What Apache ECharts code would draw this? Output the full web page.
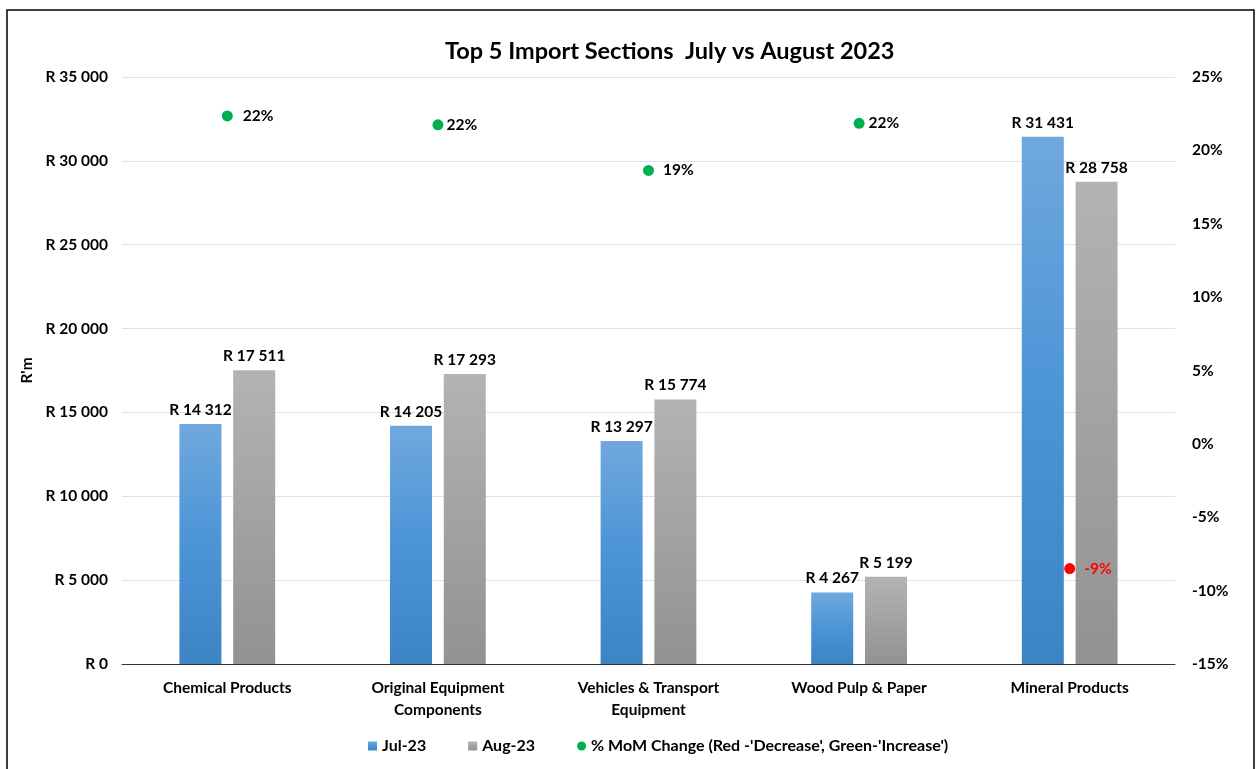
<!DOCTYPE html>
<html>
<head>
<meta charset="utf-8">
<script src="https://cdn.jsdelivr.net/npm/echarts@6/dist/echarts.min.js"></script>
<style>
  html, body { margin: 0; padding: 0; background: #fff; }
  #main { width: 1260px; height: 769px; }
</style>
</head>
<body>
<div id="main"></div>
<script>
// chart data
var sections = ['Chemical Products', 'Original Equipment\nComponents', 'Vehicles & Transport\nEquipment', 'Wood Pulp & Paper', 'Mineral Products'];
var jul23 = [14312, 14205, 13297, 4267, 31431];
var aug23 = [17511, 17293, 15774, 5199, 28758];
var momChange = [22.35, 21.74, 18.63, 21.84, -8.5];
var momLabels = ['22%', '22%', '19%', '22%', '-9%'];

var FONT = 'Lato, "Open Sans", sans-serif';
var FS = 15.5;
// label gaps next to the dots, as in the original
var labelGap = [10, 3, 9, 4, 9];

function rand(v) {
  return 'R ' + String(v).replace(/\B(?=(\d{3})+(?!\d))/g, ' ');
}

var myChart = echarts.init(document.getElementById('main'));

var option = {
  animation: false,
  textStyle: { fontFamily: FONT },
  graphic: [{
    type: 'rect',
    shape: { x: 7, y: 10, width: 1247, height: 780 },
    style: { fill: 'none', stroke: '#000', lineWidth: 1.5 }
  }],
  title: {
    text: 'Top 5 Import Sections  July vs August 2023',
    left: 440,
    top: 34,
    textStyle: { fontSize: 23.5, fontWeight: 'bold', color: '#000', fontFamily: FONT }
  },
  legend: {
    bottom: 10,
    left: 363,
    itemGap: 42,
    itemWidth: 9,
    itemHeight: 9,
    textStyle: { fontSize: 16, fontWeight: 'bold', color: '#000', fontFamily: FONT },
    data: [
      { name: 'Jul-23', icon: 'rect' },
      { name: 'Aug-23', icon: 'rect' },
      { name: "% MoM Change (Red -'Decrease', Green-'Increase')", icon: 'circle' }
    ]
  },
  grid: { left: 122, right: 85, top: 77, bottom: 105 },
  xAxis: {
    type: 'category',
    data: sections,
    axisTick: { show: false },
    axisLine: { lineStyle: { color: '#333', width: 1 } },
    axisLabel: { fontSize: FS, fontWeight: 'bold', color: '#000', margin: 13, lineHeight: 22, interval: 0 }
  },
  yAxis: [{
    type: 'value',
    min: 0,
    max: 35000,
    interval: 5000,
    name: "R'm",
    nameLocation: 'middle',
    nameGap: 82,
    nameTextStyle: { fontSize: FS, fontWeight: 'bold', color: '#000' },
    axisLabel: { formatter: rand, fontSize: FS, fontWeight: 'bold', color: '#000', margin: 14 },
    splitLine: { lineStyle: { color: '#dde2ea', width: 1 } }
  }, {
    type: 'value',
    min: -15,
    max: 25,
    interval: 5,
    position: 'right',
    axisLabel: { formatter: '{value}%', fontSize: FS, fontWeight: 'bold', color: '#000', margin: 17, align: 'left' },
    splitLine: { show: false }
  }],
  series: [{
    name: 'Jul-23',
    type: 'bar',
    data: jul23,
    barWidth: 42,
    barGap: '28%',
    itemStyle: {
      color: new echarts.graphic.LinearGradient(0, 0, 0, 1, [
        { offset: 0, color: '#70a8de' },
        { offset: 0.5, color: '#4b94d6' },
        { offset: 1, color: '#3d84c5' }
      ])
    },
    label: {
      show: true, position: 'top', distance: 6,
      formatter: function (p) { return rand(p.value); },
      fontSize: FS, fontWeight: 'bold', color: '#000'
    }
  }, {
    name: 'Aug-23',
    type: 'bar',
    data: aug23,
    barWidth: 42,
    itemStyle: {
      color: new echarts.graphic.LinearGradient(0, 0, 0, 1, [
        { offset: 0, color: '#b3b3b3' },
        { offset: 1, color: '#929292' }
      ])
    },
    label: {
      show: true, position: 'top', distance: 6,
      formatter: function (p) { return rand(p.value); },
      fontSize: FS, fontWeight: 'bold', color: '#000'
    }
  }, {
    name: "% MoM Change (Red -'Decrease', Green-'Increase')",
    type: 'scatter',
    yAxisIndex: 1,
    symbolSize: 11,
    itemStyle: { color: '#00b050', opacity: 1 },
    label: { show: true, position: 'right', fontSize: FS, fontWeight: 'bold', color: '#000' },
    data: momChange.map(function (v, i) {
      var neg = v < 0;
      return {
        value: v,
        itemStyle: { color: neg ? '#ff0000' : '#00b050', opacity: 1 },
        label: {
          show: true,
          position: 'right',
          distance: labelGap[i],
          formatter: momLabels[i],
          fontSize: FS,
          fontWeight: 'bold',
          color: neg ? '#ff0000' : '#000'
        }
      };
    })
  }]
};

myChart.setOption(option);
</script>
</body>
</html>
